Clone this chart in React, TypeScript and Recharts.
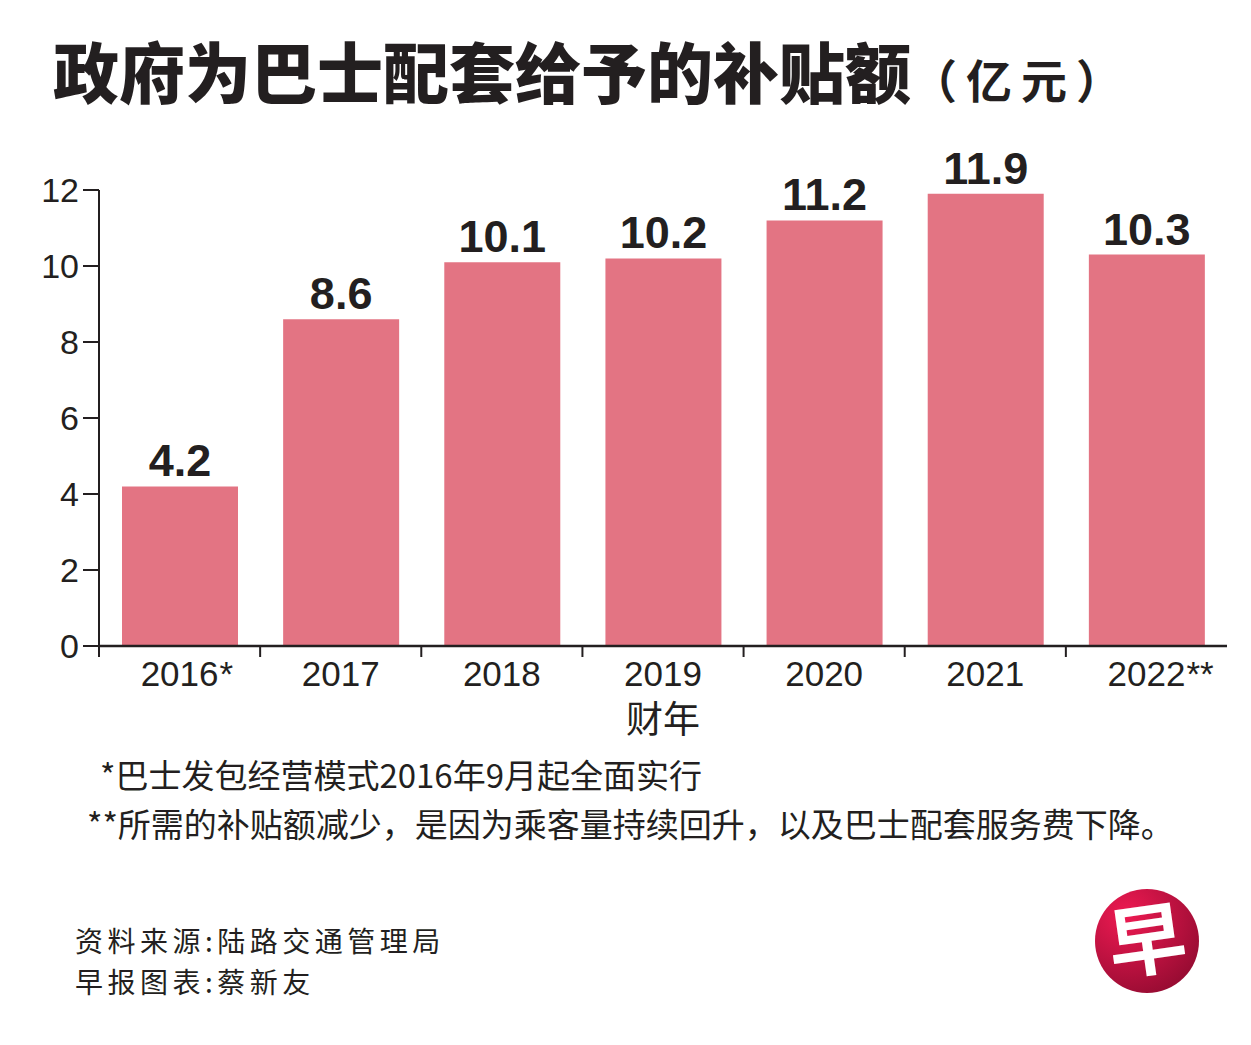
import React from "react";
import { BarChart, Bar, XAxis, YAxis, LabelList, Label } from "recharts";

const years = ["2016*", "2017", "2018", "2019", "2020", "2021", "2022**"];
const subsidy = [4.2, 8.6, 10.1, 10.2, 11.2, 11.9, 10.3];
const yTicks = [0, 2, 4, 6, 8, 10, 12];
const notes = [
  "*巴士发包经营模式2016年9月起全面实行",
  "**所需的补贴额减少，是因为乘客量持续回升，以及巴士配套服务费下降。",
];
const credits = ["资料来源:陆路交通管理局", "早报图表:蔡新友"];

const data = years.map((year, i) => ({ year, value: subsidy[i] }));

const INK = "#231f20";
const BAR = "#e37483";
const LATIN = "'Liberation Sans', Arial, Helvetica, sans-serif";
const CJK = "'Noto Sans CJK SC', 'Noto Sans', sans-serif";

// year label centred on the band, the tick itself sits on the band's left edge
const YearTick = (props: any) => {
  const { x, y, payload } = props;
  const half = payload && payload.offset ? payload.offset : 80.6;
  const m = String(payload.value).match(/^(\d+)(\**)$/);
  const base = m ? m[1] : String(payload.value);
  const stars = m ? m[2] : "";
  return (
    <g>
      <line x1={x - half} x2={x - half} y1={y} y2={y + 11} stroke={INK} strokeWidth={2} />
      <text x={x} y={y + 40} textAnchor="middle" fontSize={35} fill={INK} fontFamily={LATIN}>
        {base}
      </text>
      {stars && (
        <text x={x + 40} y={y + 40} fontSize={35} fill={INK} fontFamily={LATIN}>
          {stars}
        </text>
      )}
    </g>
  );
};

export default function App() {
  return (
    <div style={{ position: "absolute", left: 0, top: 0, width: 1251, height: 1045, background: "#fff" }}>
      <BarChart
        width={1251}
        height={1045}
        data={data}
        margin={{ top: 190, right: 24, bottom: 304, left: 39 }}
      >
        <XAxis
          dataKey="year"
          interval={0}
          height={95}
          tickSize={0}
          tickMargin={0}
          tickLine={false}
          axisLine={{ stroke: INK, strokeWidth: 2.5 }}
          tick={(p: any) => <YearTick {...p} />}
        >
          <Label value="财年" position="insideBottom" offset={8} fontSize={37} fill={INK} fontFamily={CJK} />
        </XAxis>
        <YAxis
          domain={[0, 12]}
          ticks={yTicks}
          interval={0}
          width={60}
          tickSize={16}
          tickMargin={4}
          axisLine={{ stroke: INK, strokeWidth: 2 }}
          tickLine={{ stroke: INK, strokeWidth: 2 }}
          tick={{ fontSize: 34, fill: INK, fontFamily: LATIN }}
        />
        <Bar dataKey="value" fill={BAR} barSize={116} isAnimationActive={false}>
          <LabelList
            dataKey="value"
            position="top"
            offset={10}
            fontSize={45}
            fontWeight={700}
            fill={INK}
            fontFamily={LATIN}
          />
        </Bar>
      </BarChart>

      <svg
        width={1251}
        height={1045}
        style={{ position: "absolute", left: 0, top: 0, pointerEvents: "none" }}
      >
        <defs>
          <radialGradient id="logoGrad" cx="30%" cy="25%" r="85%">
            <stop offset="0%" stopColor="#ee1a52" />
            <stop offset="100%" stopColor="#940b31" />
          </radialGradient>
        </defs>
        <text x={53} y={98} fontSize={66} fontWeight={900} fill={INK} fontFamily={CJK}>
          政府为巴士配套给予的补贴额
          <tspan fontSize={46} fontWeight={700} letterSpacing={9}>（亿元）</tspan>
        </text>

        <text x={100} y={788} fontSize={33} fill={INK} fontFamily={CJK}>{notes[0]}</text>
        <text x={87} y={837} fontSize={33} fill={INK} fontFamily={CJK}>{notes[1]}</text>
        <text x={75} y={952} fontSize={28} letterSpacing={4.5} fill={INK} fontFamily={CJK}>{credits[0]}</text>
        <text x={75} y={993} fontSize={28} letterSpacing={4.5} fill={INK} fontFamily={CJK}>{credits[1]}</text>

        <circle cx={1147} cy={941} r={52} fill="url(#logoGrad)" />
        <text
          x={1147}
          y={969}
          textAnchor="middle"
          fontSize={78}
          fontWeight={700}
          fill="#fff"
          fontFamily={CJK}
          transform="rotate(-8 1147 941)"
        >
          早
        </text>
      </svg>
    </div>
  );
}
